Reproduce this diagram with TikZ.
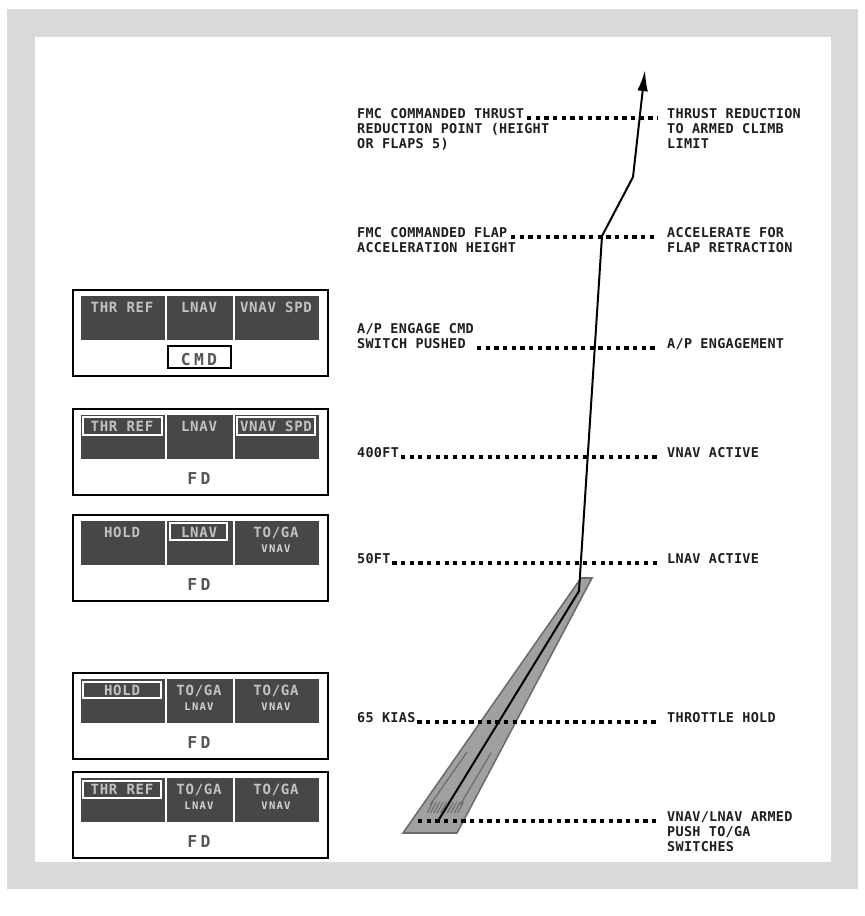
\documentclass[tikz,border=0pt]{standalone}
\usepackage{fontspec}
\usetikzlibrary{arrows.meta}
\newfontfamily\labfont{DejaVu Sans Mono}[LetterSpace=2]
\newfontfamily\modefont{DejaVu Sans Mono}[LetterSpace=5]
\newfontfamily\subfont{DejaVu Sans Mono}[LetterSpace=12]
\newfontfamily\fdfont{DejaVu Sans Mono}[LetterSpace=20]
\definecolor{framegray}{HTML}{D9D9D9}
\definecolor{cellbg}{HTML}{474747}
\definecolor{celltxt}{HTML}{C2C2C2}
\definecolor{subtxt}{HTML}{D4D4D4}
\definecolor{fdgray}{HTML}{555555}
\definecolor{rwyfill}{HTML}{A0A0A0}
\definecolor{rwyedge}{HTML}{6B6B6B}
\definecolor{labtxt}{HTML}{1E1E1E}

\begin{document}
\begin{tikzpicture}[x=0.03cm,y=-0.03cm,
  lab/.style={anchor=base west,align=left,inner sep=0pt,text=labtxt,
    font=\labfont\bfseries\fontsize{11.5pt}{12.75pt}\selectfont},
  dotline/.style={line width=2.7pt,dash pattern=on 3.6pt off 3.8pt},
  panelframe/.style={draw=black,line width=1.7pt},
  modetext/.style={text=celltxt,inner sep=0pt,text height=8.7pt,text depth=0pt,
    font=\modefont\bfseries\fontsize{12pt}{13pt}\selectfont},
  subtext/.style={text=subtxt,inner sep=0pt,text height=6.6pt,text depth=0pt,
    font=\subfont\bfseries\fontsize{9pt}{10pt}\selectfont},
  modebox/.style={draw=white,line width=1.3pt},
  fdtext/.style={text=fdgray,inner sep=0pt,text height=10.3pt,text depth=0pt,
    font=\fdfont\bfseries\fontsize{14pt}{15pt}\selectfont},
  flightpath/.style={line width=1.7pt,-{Latex[length=18pt,width=9pt]}}]
\useasboundingbox (0,0) rectangle (865,916);
\fill[framegray] (7,9) rectangle (858,889);
\fill[white] (35,37) rectangle (831,862);

% mode annunciator panels
\newcommand{\fmapanel}[3]{%
  \draw[panelframe] (73,{#1}) rectangle (328,{#1+86});
  \foreach \xa/\xb in {81/165,167/233,235/319}
    \fill[cellbg] (\xa,{#1+6}) rectangle (\xb,{#1+50});
  \node[fdtext] (#2) at (199,{#1+69}) {#3};
}
\fmapanel{290}{p1fd}{CMD}
\fmapanel{409}{p2fd}{FD}
\fmapanel{515}{p3fd}{FD}
\fmapanel{673}{p4fd}{FD}
\fmapanel{772}{p5fd}{FD}
\draw[line width=1.5pt] (168,346) rectangle (231,368);

\node[modetext] (p1thr) at (122,307) {THR REF};
\node[modetext] (p1roll) at (199,307) {LNAV};
\node[modetext] (p1pitch) at (276,307) {VNAV SPD};

\node[modetext] (p2thr) at (122,426) {THR REF};
\node[modetext] (p2roll) at (199,426) {LNAV};
\node[modetext] (p2pitch) at (276,426) {VNAV SPD};
\draw[modebox] (83,417) rectangle (162,435);
\draw[modebox] (237,417) rectangle (315,435);

\node[modetext] (p3thr) at (122,532) {HOLD};
\node[modetext] (p3roll) at (199,532) {LNAV};
\node[modetext] (p3pitch) at (276,532) {TO/GA};
\node[subtext] (p3arm) at (276,549) {VNAV};
\draw[modebox] (170,523) rectangle (227,540);

\node[modetext] (p4thr) at (122,690) {HOLD};
\node[modetext] (p4roll) at (199,690) {TO/GA};
\node[subtext] (p4rarm) at (199,707) {LNAV};
\node[modetext] (p4pitch) at (276,690) {TO/GA};
\node[subtext] (p4parm) at (276,707) {VNAV};
\draw[modebox] (83,682) rectangle (161,698);

\node[modetext] (p5thr) at (122,789) {THR REF};
\node[modetext] (p5roll) at (199,789) {TO/GA};
\node[subtext] (p5rarm) at (199,806) {LNAV};
\node[modetext] (p5pitch) at (276,789) {TO/GA};
\node[subtext] (p5parm) at (276,806) {VNAV};
\draw[modebox] (83,781) rectangle (161,798);

% runway
\filldraw[fill=rwyfill,draw=rwyedge,line width=1.3pt] (403,833) -- (457,833) -- (592,578) -- (581,578) -- cycle;
\draw[rwyedge,line width=1pt] (467,752) -- (430,805) (491,753) -- (460,805);
\foreach \i in {0,...,9}
  \draw[rwyedge,line width=0.9pt] ({427+\i*3.4},813) -- ++(6,-11);

% event labels (base = last line)
\node[lab] (thrL) at (357,148) {FMC COMMANDED THRUST\\REDUCTION POINT (HEIGHT\\OR FLAPS 5)};
\node[lab] (thrR) at (667,148) {THRUST REDUCTION\\TO ARMED CLIMB\\LIMIT};
\node[lab] (flapL) at (357,252) {FMC COMMANDED FLAP\\ACCELERATION HEIGHT};
\node[lab] (flapR) at (667,252) {ACCELERATE FOR\\FLAP RETRACTION};
\node[lab] (apL) at (357,348) {A/P ENGAGE CMD\\SWITCH PUSHED};
\node[lab] (apR) at (667,348) {A/P ENGAGEMENT};
\node[lab] (ft400L) at (357,457) {400FT};
\node[lab] (ft400R) at (667,457) {VNAV ACTIVE};
\node[lab] (ft50L) at (357,563) {50FT};
\node[lab] (ft50R) at (667,563) {LNAV ACTIVE};
\node[lab] (kiasL) at (357,722) {65 KIAS};
\node[lab] (kiasR) at (667,722) {THROTTLE HOLD};
\node[lab] (armR) at (667,851) {VNAV/LNAV ARMED\\PUSH TO/GA\\SWITCHES};

\coordinate (thrA) at (527,118);
\coordinate (flapA) at (511,237);
\coordinate (apA) at (477,348);
\coordinate (armA) at (418,821);
\draw[dotline] (thrA) -- (658,118);
\draw[dotline] (flapA) -- ([xshift=-9pt]flapR.west |- flapA);
\draw[dotline] (apA) -- ([xshift=-9pt]apR.base west);
\draw[dotline] ([xshift=1.5pt]ft400L.base east) -- ([xshift=-8pt]ft400R.base west);
\draw[dotline] ([xshift=1.5pt]ft50L.base east) -- ([xshift=-8pt]ft50R.base west);
\draw[dotline] ([xshift=1.5pt]kiasL.base east) -- ([xshift=-8pt]kiasR.base west);
\draw[dotline] (armA) -- ([xshift=-8pt]armR.west |- armA);

% takeoff and climb path
\coordinate (brake) at (438,821);
\coordinate (liftoff) at (579,591);
\coordinate (flapacc) at (602,236);
\coordinate (thrred) at (633,177);
\coordinate (climb) at (645,70);
\draw[flightpath] (brake) -- (liftoff) -- (flapacc) -- (thrred) -- (climb);
\end{tikzpicture}
\end{document}
